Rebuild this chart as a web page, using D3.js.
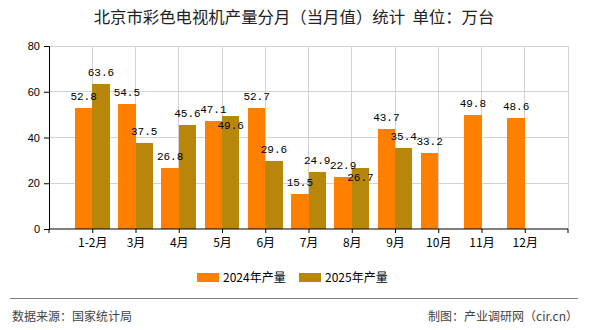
<!DOCTYPE html>
<html><head><meta charset="utf-8">
<script src="https://cdn.jsdelivr.net/npm/d3@7"></script>
<style>
html,body{margin:0;padding:0;background:#fff;}
svg{display:block;}
</style></head>
<body><svg id="c" width="590" height="330"></svg>
<script>
const categories = ["1-2月","3月","4月","5月","6月","7月","8月","9月","10月","11月","12月"];
const series2024 = [52.8,54.5,26.8,47.1,52.7,15.5,22.9,43.7,33.2,49.8,48.6];
const series2025 = [63.6,37.5,45.6,49.6,29.6,24.9,26.7,35.4,null,null,null];
const seriesNames = ["2024年产量","2025年产量"];
const colors = ["#FF8000","#B8860B"];
const yTicks = [0,20,40,60,80];
const title = "北京市彩色电视机产量分月（当月值）统计  单位：万台";
const sourceText = "数据来源：国家统计局";
const makerText = "制图：产业调研网（cir.cn）";

const svg = d3.select("#c");
const L = 49, R = 568, T = 46, B = 229;
const step = (R - L) / (categories.length + 1);
const x = d3.scalePoint().domain(categories).range([L + step, R - step]);
const y = d3.scaleLinear().domain([0, 80]).range([B, T]);
const bw = step * 0.4;
const inner = d3.scaleBand().domain(seriesNames).range([-bw, bw]).padding(0);

// title
svg.append("text").attr("x", 294).attr("y", 23).attr("text-anchor", "middle")
  .style("white-space", "pre")
  .attr("font-family", "'Noto Sans CJK SC', sans-serif").attr("font-size", 16.4)
  .attr("fill", "#222").text(title);

// grid
const g = svg.append("g");
const gridX = [L, ...categories.map(c => x(c)), R];
g.selectAll("line.vg").data(gridX.slice(1)).join("line")
  .attr("x1", d => d).attr("x2", d => d).attr("y1", T).attr("y2", B)
  .attr("stroke", "#d3d3d3").attr("stroke-width", 1).attr("shape-rendering", "crispEdges");
g.selectAll("line.hg").data(yTicks.slice(1)).join("line")
  .attr("x1", L).attr("x2", R).attr("y1", d => y(d)).attr("y2", d => y(d))
  .attr("stroke", "#d3d3d3").attr("stroke-width", 1).attr("shape-rendering", "crispEdges");

// bars
const rows = categories.map((c, i) => ({c, vals: [series2024[i], series2025[i]]}));
const bars = [];
rows.forEach(r => r.vals.forEach((v, k) => { if (v != null) bars.push({c: r.c, v, k}); }));
svg.append("g").selectAll("rect").data(bars).join("rect")
  .attr("x", d => x(d.c) + inner(seriesNames[d.k]))
  .attr("width", inner.bandwidth())
  .attr("y", d => y(d.v)).attr("height", d => B - y(d.v))
  .attr("fill", d => colors[d.k]).attr("shape-rendering", "crispEdges");

// axes
const ya = svg.append("g").attr("transform", `translate(${L},0)`)
  .call(d3.axisLeft(y).tickValues(yTicks).tickSize(5).tickPadding(4).tickFormat(d3.format("d")));
ya.select(".domain").attr("stroke", "#000");
ya.selectAll(".tick line").attr("stroke", "#000");
ya.selectAll("text").attr("font-family", "'Liberation Sans', Arial, sans-serif").attr("font-size", 11).attr("fill", "#000");

const xa = svg.append("g").attr("transform", `translate(0,${B})`)
  .call(d3.axisBottom(x).tickSize(4).tickPadding(5));
xa.select(".domain").attr("d", `M${L},4V0H${R}V4`).attr("stroke", "#000");
xa.selectAll(".tick line").attr("stroke", "#000");
xa.selectAll("text").attr("font-family", "'Noto Sans CJK SC', sans-serif").attr("font-size", 12).attr("fill", "#000");

// value labels with simple collision avoidance
const labels = bars.map(d => ({...d, cx: x(d.c) + inner(seriesNames[d.k]) + inner.bandwidth() / 2, cy: y(d.v) - 12}));
labels.forEach(l => {
  if (l.k === 1) {
    const o = labels.find(m => m.c === l.c && m.k === 0);
    if (o && Math.abs(o.cy - l.cy) < 14) l.cy = y(l.v) + 9;
  }
});
svg.append("g").selectAll("text").data(labels).join("text")
  .attr("x", d => d.cx).attr("y", d => d.cy + 4).attr("text-anchor", "middle")
  .attr("font-family", "'Liberation Mono', 'DejaVu Sans Mono', monospace").attr("font-size", 11)
  .attr("fill", "#000").text(d => d.v.toFixed(1));

// legend
const leg = svg.append("g");
const legX = [197, 299];
seriesNames.forEach((n, k) => {
  leg.append("rect").attr("x", legX[k]).attr("y", 273).attr("width", 22).attr("height", 9).attr("fill", colors[k]);
  leg.append("text").attr("x", legX[k] + 26).attr("y", 281.5)
    .attr("font-family", "'Noto Sans CJK SC', sans-serif").attr("font-size", 12).attr("fill", "#000").text(n);
});

// footer
svg.append("line").attr("x1", 10).attr("x2", 578).attr("y1", 298.5).attr("y2", 298.5)
  .attr("stroke", "#808080").attr("stroke-width", 1);
svg.append("text").attr("x", 12).attr("y", 320.5).attr("font-family", "'Noto Sans CJK SC', sans-serif")
  .attr("font-size", 12).attr("fill", "#444").text(sourceText);
svg.append("text").attr("x", 578).attr("y", 320.5).attr("text-anchor", "end").attr("font-family", "'Noto Sans CJK SC', sans-serif")
  .attr("font-size", 12).attr("fill", "#444").text(makerText);
</script></body></html>
